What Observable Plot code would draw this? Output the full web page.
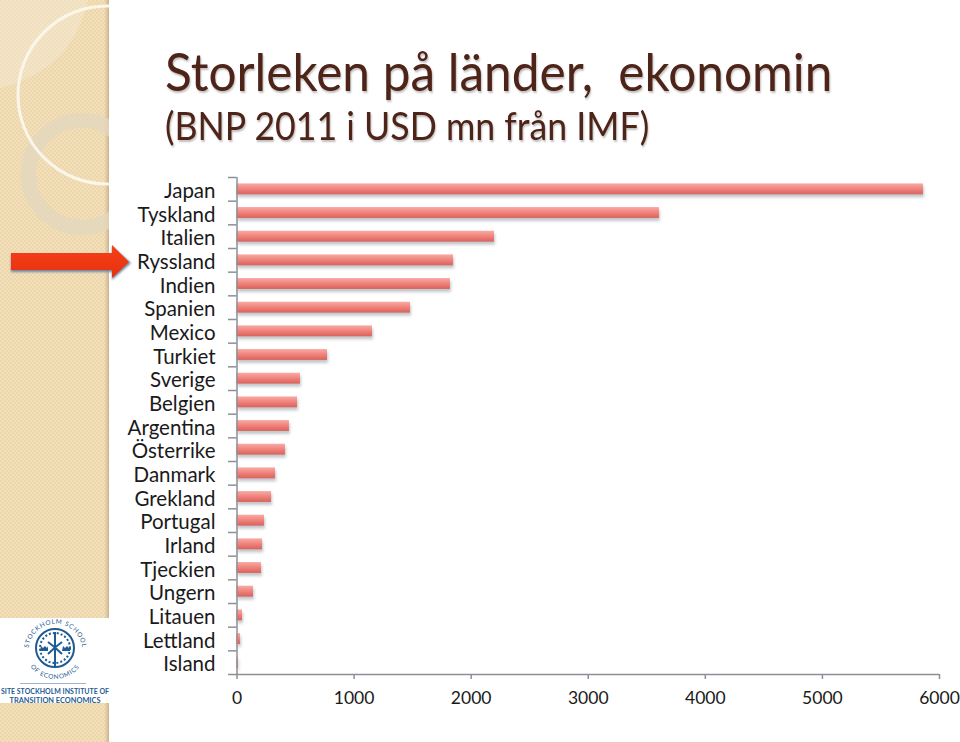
<!DOCTYPE html>
<html><head><meta charset="utf-8">
<script src="https://cdn.jsdelivr.net/npm/d3@7"></script>
<script src="https://cdn.jsdelivr.net/npm/@observablehq/plot@0.6"></script>
<style>
html,body{margin:0;padding:0;background:#fff;width:960px;height:742px;overflow:hidden;font-family:Lato,sans-serif}
#bg{position:absolute;left:0;top:0}
#chart{position:absolute;left:0;top:0}
h1,h2{position:absolute;margin:0;font-weight:400;color:#4e2318;white-space:pre;text-shadow:1px 2px 2px rgba(0,0,0,.25);font-family:Lato,sans-serif;transform-origin:0 50%}
h1{left:165px;top:38px;font-size:53px;line-height:66px;transform:scaleX(.935)}
h2{left:165px;top:100px;font-size:39px;line-height:50px;transform:scaleX(.915)}
</style></head><body>
<svg id="bg" width="960" height="742" viewBox="0 0 960 742">
<defs>
<pattern id="weave" width="4" height="4" patternUnits="userSpaceOnUse">
<rect width="4" height="4" fill="#f2e0bd"/><rect width="2" height="2" fill="#ecd6aa"/><rect x="2" y="2" width="2" height="2" fill="#ecd6aa"/>
</pattern>
<clipPath id="panel"><rect width="109" height="742"/></clipPath>
<linearGradient id="edge" x1="0" x2="1"><stop offset="0" stop-color="#d8c199" stop-opacity="0"/><stop offset="1" stop-color="#c9b08a"/></linearGradient>
<linearGradient id="arrow" x1="0" x2="0" y1="0" y2="1"><stop offset="0" stop-color="#f5401c"/><stop offset="1" stop-color="#e8300c"/></linearGradient>
<path id="arcTop" d="M29 656 A27 27 0 1 1 82 656"/>
<path id="arcBot" d="M24 648 A31 31 0 0 0 86 648"/>
<filter id="soft"><feGaussianBlur stdDeviation="0.8"/></filter>
</defs>
<rect width="109" height="742" fill="url(#weave)"/>
<rect x="104" width="5" height="742" fill="url(#edge)"/>
<g clip-path="url(#panel)">
<path d="M0 0H88Q72 70 0 88Z" fill="#f7ecd4" opacity=".45"/>
<circle cx="82" cy="174" r="53.5" fill="none" stroke="#e4d7bd" stroke-width="15" opacity=".8"/>
<circle cx="107" cy="95" r="89" fill="none" stroke="#fbf6ea" stroke-width="3"/>
</g>
<rect y="618" width="109" height="85" fill="#fff"/>
<g fill="#1f5c93" font-family="Lato,sans-serif">
<circle cx="55" cy="648" r="19" fill="none" stroke="#1f5c93" stroke-width="2"/>
<circle cx="55" cy="648" r="15" fill="none" stroke="#1f5c93" stroke-width="2" stroke-dasharray="2 2"/>
<path d="M55 632V666" stroke="#1f5c93" stroke-width="2" fill="none"/>
<path d="M48 642Q55 647 62 654M62 642Q55 647 48 654" fill="none" stroke="#1f5c93" stroke-width="2"/>
<path d="M41 646l2 2 2-2 2 2 1-2v5h-8zM63 646l2 2 2-2 2 2 1-2v5h-8z"/>
<text font-size="6.4" letter-spacing=".7"><textPath href="#arcTop" startOffset="50%" text-anchor="middle">STOCKHOLM SCHOOL</textPath></text>
<text font-size="6.4" letter-spacing=".7"><textPath href="#arcBot" startOffset="50%" text-anchor="middle">OF ECONOMICS</textPath></text>
<rect x="20" y="683" width="66" height="1" fill="#9fb6cc"/>
<text x="55" y="694" text-anchor="middle" font-size="7.3" font-weight="700" textLength="108" lengthAdjust="spacingAndGlyphs">SITE STOCKHOLM INSTITUTE OF</text>
<text x="55" y="703" text-anchor="middle" font-size="7.3" font-weight="700" textLength="91" lengthAdjust="spacingAndGlyphs">TRANSITION ECONOMICS</text>
</g>
<path d="M11 254H112V245L131 262L112 279V271H11Z" fill="#6f88a3" transform="translate(0,1)" filter="url(#soft)"/>
<path d="M11 253H112V245L129 262L112 278V270H11Z" fill="url(#arrow)"/>
</svg>
<h1>Storleken på länder,  ekonomin</h1>
<h2>(BNP 2011 i USD mn från IMF)</h2>
<div id="chart"></div>
<script>
const countries = ["Japan","Tyskland","Italien","Ryssland","Indien","Spanien","Mexico","Turkiet","Sverige","Belgien","Argentina","Österrike","Danmark","Grekland","Portugal","Irland","Tjeckien","Ungern","Litauen","Lettland","Island"];
const gdp = [5863,3608,2199,1849,1823,1482,1157,773,542,517,448,414,329,295,235,218,209,141,47,30,13];
const xTicks = [0,1000,2000,3000,4000,5000,6000];
const rows = countries.map((country,i)=>({country,value:gdp[i]}));
const step = 497/21, axisColor = "#8b8f96";
const plot = Plot.plot({
  width:960,height:742,
  marginLeft:236.5,marginRight:21,marginTop:177,marginBottom:68,
  style:{background:"transparent",fontFamily:"Lato,sans-serif"},
  x:{domain:[0,6000],label:null},
  y:{domain:countries,label:null,paddingInner:0.54,paddingOuter:0.27,align:0.5,round:false},
  marks:[
    Plot.barX(rows,{y:"country",x:"value",fill:"#8f979e",fillOpacity:.55,dy:3,dx:1,imageFilter:"blur(1.5px)"}),
    Plot.barX(rows,{y:"country",x:"value",fill:"url(#barGrad)",imageFilter:"blur(0.4px)"}),
    Plot.ruleX([0],{stroke:axisColor,strokeWidth:1.5}),
    Plot.ruleY(countries,{dy:-step/2,x1:-72,x2:0,stroke:axisColor,strokeWidth:1.5}),
    Plot.ruleY(["Island"],{dy:step/2,x1:-72,x2:6000,stroke:axisColor,strokeWidth:1.5}),
    Plot.axisY({tickSize:0,tickPadding:21.5,fontSize:20.5,label:null,color:"#1a1a1a",dy:2}),
    Plot.axisX({ticks:xTicks,tickSize:5,tickPadding:12,fontSize:17.5,label:null,tickFormat:d=>String(d),stroke:axisColor,strokeWidth:1.5,color:"#1a1a1a"})
  ]
});
const ns="http://www.w3.org/2000/svg";
const defs=document.createElementNS(ns,"defs");
defs.innerHTML=`<linearGradient id="barGrad" x1="0" x2="0" y1="0" y2="1"><stop offset="0" stop-color="#f9aaa5"/><stop offset=".55" stop-color="#ee7f78"/><stop offset="1" stop-color="#d9625c"/></linearGradient>`;
plot.prepend(defs);
document.getElementById("chart").append(plot);
</script>
</body></html>
